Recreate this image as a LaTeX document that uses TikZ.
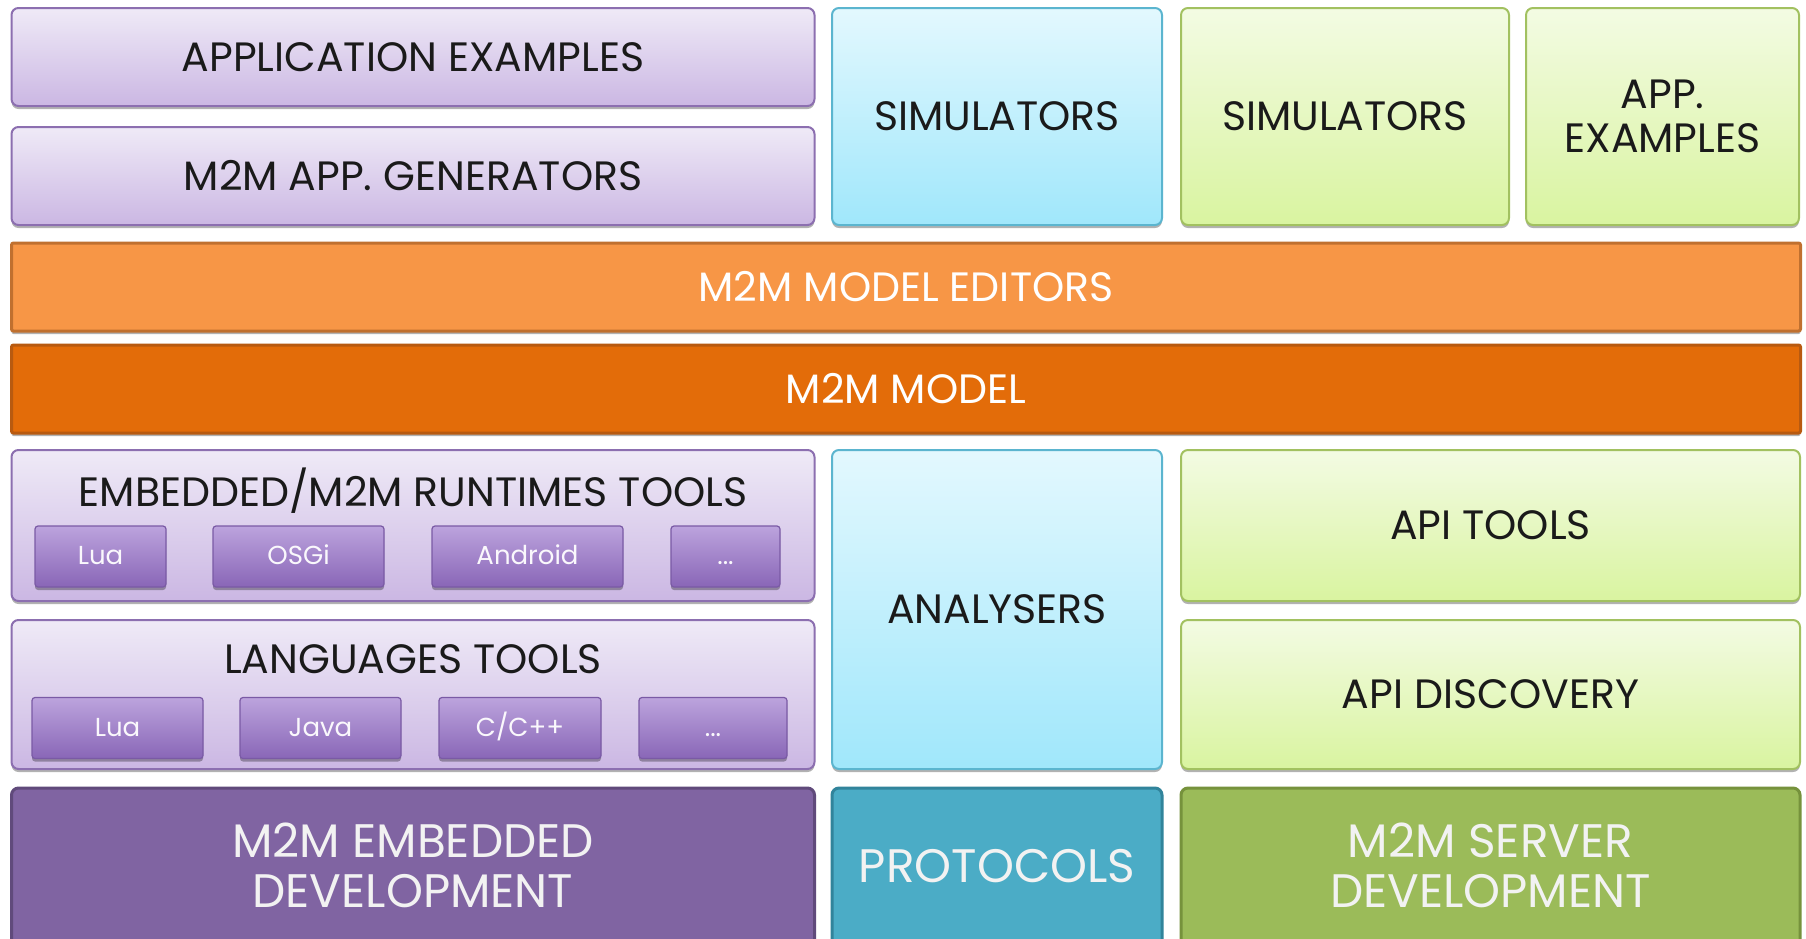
\documentclass[tikz,border=0pt]{standalone}
\usepackage{fontspec}
\setmainfont{Poppins}
\usetikzlibrary{shadows}

\definecolor{lilactop}{HTML}{EFEAF7}
\definecolor{lilacbot}{HTML}{CBB7E3}
\definecolor{lilacline}{HTML}{8C6FB0}
\definecolor{chiptop}{HTML}{BCA3DD}
\definecolor{chipbot}{HTML}{8966B7}
\definecolor{chipline}{HTML}{7A5AA5}
\definecolor{skytop}{HTML}{E3F8FE}
\definecolor{skybot}{HTML}{A0E7FB}
\definecolor{skyline}{HTML}{5BB5CF}
\definecolor{limetop}{HTML}{F3FBE3}
\definecolor{limebot}{HTML}{D9F4A0}
\definecolor{limeline}{HTML}{A2C160}
\definecolor{orangelt}{HTML}{F79646}
\definecolor{orangeltline}{HTML}{C0702F}
\definecolor{orangedk}{HTML}{E36C09}
\definecolor{orangedkline}{HTML}{B85A10}
\definecolor{plumdk}{HTML}{8064A2}
\definecolor{plumline}{HTML}{604A7B}
\definecolor{tealdk}{HTML}{4BACC6}
\definecolor{tealline}{HTML}{31849B}
\definecolor{olivedk}{HTML}{9BBB59}
\definecolor{oliveline}{HTML}{76923C}
\definecolor{textdark}{HTML}{1A1A1A}

\tikzset{
  boxshadow/.style={drop shadow={shadow xshift=0pt, shadow yshift=-3pt, opacity=.3, fill=black}},
  tile/.style={rounded corners=7pt, line width=2pt, boxshadow, align=center,
    text=textdark, font=\fontsize{41}{44}\selectfont, inner sep=0pt},
  lilacbox/.style={tile, draw=lilacline, top color=lilactop, bottom color=lilacbot},
  skybox/.style={tile, draw=skyline, top color=skytop, bottom color=skybot},
  limebox/.style={tile, draw=limeline, top color=limetop, bottom color=limebot},
  chip/.style={tile, draw=chipline, top color=chiptop, bottom color=chipbot,
    rounded corners=3pt, line width=1.2pt, text=white!92!chiptop,
    font=\fontsize{26}{30}\selectfont, minimum height=61,
    text height=18pt, text depth=2pt},
  bar/.style={tile, rounded corners=2pt, line width=3pt, text=white,
    minimum width=1789, minimum height=88},
  basebox/.style={tile, rounded corners=7pt, line width=3pt, minimum height=172},
  basetext/.style={text=white!95!black, font=\fontsize{47}{50}\selectfont, align=center},
  boxtitle/.style={text=textdark, font=\fontsize{41}{44}\selectfont, inner sep=0pt},
}

\begin{document}
\begin{tikzpicture}[x=1pt, y=-1pt]
  \useasboundingbox (0,0) rectangle (1806,938);
  \clip (0,0) rectangle (1806,938);
  \fill[white] (0,0) rectangle (1806,938);

  % top row
  \node[lilacbox, minimum width=803, minimum height=98] (appex) at (413,57) {APPLICATION EXAMPLES};
  \node[lilacbox, minimum width=803, minimum height=98] (appgen) at (413,176) {M2M APP. GENERATORS};
  \node[skybox, minimum width=330, minimum height=217] (simsky) at (997,116.5) {SIMULATORS};
  \node[limebox, minimum width=328, minimum height=217] (simlime) at (1345,116.5) {SIMULATORS};
  \node[limebox, minimum width=273, minimum height=217] (appexsrv) at (1662.5,116.5) {APP.\\EXAMPLES};

  % model bars
  \node[bar, draw=orangeltline, fill=orangelt] (editors) at (906,287) {M2M MODEL EDITORS};
  \node[bar, draw=orangedkline, fill=orangedk] (model) at (906,389) {M2M MODEL};

  % tools
  \node[lilacbox, minimum width=803, minimum height=151] (runtimes) at (413,525.5) {};
  \node[boxtitle] (runtimestitle) at (413,491) {EMBEDDED/M2M RUNTIMES TOOLS};
  \node[chip, minimum width=131] (rtlua) at (100.5,556.5) {Lua};
  \node[chip, minimum width=171] (rtosgi) at (298.5,556.5) {OSGi};
  \node[chip, minimum width=191] (rtandroid) at (527.5,556.5) {Android};
  \node[chip, minimum width=109] (rtmore) at (725.5,556.5) {...};

  \node[lilacbox, minimum width=803, minimum height=149] (langs) at (413,694.5) {};
  \node[boxtitle] (langstitle) at (413,659) {LANGUAGES TOOLS};
  \node[chip, minimum width=171] (lglua) at (117.5,728) {Lua};
  \node[chip, minimum width=161] (lgjava) at (320.5,728) {Java};
  \node[chip, minimum width=162] (lgc) at (520,728) {C/C++};
  \node[chip, minimum width=148] (lgmore) at (713,728) {...};

  \node[skybox, minimum width=330, minimum height=319] (analysers) at (997,609.5) {ANALYSERS};
  \node[limebox, minimum width=619, minimum height=151] (apitools) at (1490.5,525.5) {API TOOLS};
  \node[limebox, minimum width=619, minimum height=149] (apidisc) at (1490.5,694.5) {API DISCOVERY};

  % base row
  \node[basebox, draw=plumline, fill=plumdk, minimum width=803] (embdev) at (413,874) {};
  \node[basebox, draw=tealline, fill=tealdk, minimum width=330] (protocols) at (997,874) {};
  \node[basebox, draw=oliveline, fill=olivedk, minimum width=619] (srvdev) at (1490.5,874) {};
  \node[basetext] (embdevtext) at (413,865) {M2M EMBEDDED\\DEVELOPMENT};
  \node[basetext] (protocolstext) at (997,866) {PROTOCOLS};
  \node[basetext] (srvdevtext) at (1490.5,865) {M2M SERVER\\DEVELOPMENT};
\end{tikzpicture}
\end{document}
